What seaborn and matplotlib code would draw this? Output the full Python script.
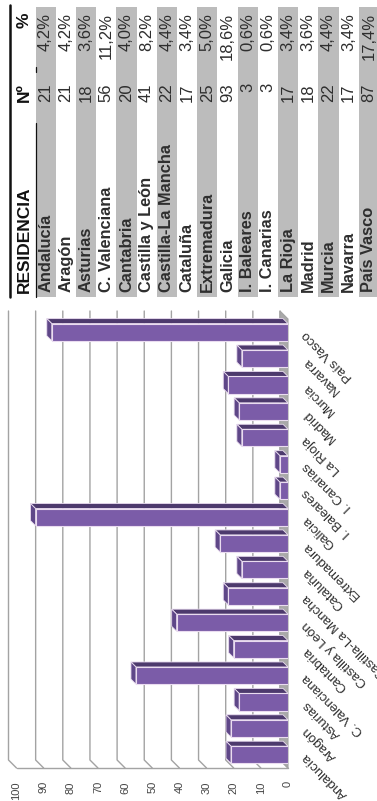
import matplotlib
matplotlib.use("Agg")
import matplotlib.pyplot as plt
import matplotlib.patches as mpatches
import pandas as pd
import seaborn as sns

# =========================================================
# DATA
# =========================================================

regions = ["Andalucía", "Aragón", "Asturias", "C. Valenciana", "Cantabria",
           "Castilla y León", "Castilla-La Mancha", "Cataluña", "Extremadura",
           "Galicia", "I. Baleares", "I. Canarias", "La Rioja", "Madrid",
           "Murcia", "Navarra", "País Vasco"]
counts = [21, 21, 18, 56, 20, 41, 22, 17, 25, 93, 3, 3, 17, 18, 22, 17, 87]
pcts = ["4,2%", "4,2%", "3,6%", "11,2%", "4,0%", "8,2%", "4,4%", "3,4%", "5,0%",
        "18,6%", "0,6%", "0,6%", "3,4%", "3,6%", "4,4%", "3,4%", "17,4%"]
value_ticks = list(range(0, 101, 10))
headers = ["RESIDENCIA", "Nº", "%"]

# =========================================================
# STYLE
# =========================================================

W, H = 377, 801
PURPLE     = "#7b5ca8"
PURPLE_TOP = "#4d3a6d"
PURPLE_END = "#5f4788"
EDGE       = "#eadcf0"
GRID       = "#a3a3a3"
FLOOR      = "#a9a9a9"
TXT        = "#2e2e2e"
BAND       = "#bcbcbc"

sns.set_theme(style="white")
plt.rcParams["font.family"] = ["Liberation Sans", "DejaVu Sans"]

fig = plt.figure(figsize=(W / 100, H / 100), dpi=100)

# =========================================================
# CHART (rotated 3D-look bar chart)
# =========================================================

left, right, top, bottom = 16.5, 288, 319, 768
ax = fig.add_axes([left / W, 1 - bottom / H, (right - left) / W, (bottom - top) / H])

df = pd.DataFrame({"region": regions, "n": counts})
sns.barplot(data=df, x="n", y="region", order=regions[::-1], orient="h",
            color=PURPLE, saturation=1, width=0.65, edgecolor=EDGE,
            linewidth=0.8, ax=ax, zorder=3)
bars = list(ax.patches)

ax.set_xlim(100, 0)
y0, y1 = -0.5, len(regions) - 0.5
ax.set_ylim(y1, y0)

xpu = (right - left) / 100          # px per value unit
ypu = (bottom - top) / len(regions)  # px per category
gdx, gdy = 8 / xpu, -8 / ypu        # wall depth
bdx, bdy = 5 / xpu, -5 / ypu        # bar depth

# floor and back-wall grid
ax.add_patch(mpatches.Polygon([(0, y0), (0, y1), (gdx, y1 + gdy), (gdx, y0 + gdy)],
                              closed=True, fc=FLOOR, ec=GRID, lw=0.8,
                              clip_on=False, zorder=1.5))
for v in value_ticks:
    ax.plot([v + gdx, v + gdx, v], [y0 + gdy, y1 + gdy, y1],
            color=GRID, lw=1, clip_on=False, zorder=1)
ax.plot([100, 0], [y1, y1], color=GRID, lw=1, clip_on=False, zorder=1)

# bar depth faces
for p in bars:
    v = p.get_width()
    yt = p.get_y()
    yb = yt + p.get_height()
    ax.add_patch(mpatches.Polygon([(v, yt), (0, yt), (bdx, yt + bdy), (v + bdx, yt + bdy)],
                                  closed=True, fc=PURPLE_TOP, ec=EDGE, lw=0.6,
                                  clip_on=False, zorder=2.5))
    ax.add_patch(mpatches.Polygon([(v, yt), (v, yb), (v + bdx, yb + bdy), (v + bdx, yt + bdy)],
                                  closed=True, fc=PURPLE_END, ec=EDGE, lw=0.6,
                                  clip_on=False, zorder=2.6))

ax.set_xlabel("")
ax.set_ylabel("")
ax.grid(False)
sns.despine(ax=ax, left=True, bottom=True)

ax.set_xticks(value_ticks)
ax.set_xticklabels([str(v) for v in value_ticks], rotation=90, fontsize=8, color="#444444")
ax.tick_params(axis="x", length=0, pad=9.5)

ax.yaxis.tick_right()
ax.tick_params(axis="y", length=0, pad=12, labelsize=9.5, labelcolor=TXT)
for lab in ax.get_yticklabels():
    lab.set_rotation(135)
    lab.set_rotation_mode("anchor")
    lab.set_ha("right")
    lab.set_va("center")

# =========================================================
# TABLE
# =========================================================

tab = fig.add_axes([0, 1 - 300 / H, 1, 300 / H])
tab.set_xlim(0, W)
tab.set_ylim(300, 0)
tab.axis("off")

pitch = 20.2
x_first = 35.5
for i, (name, n, pc) in enumerate(zip(regions, counts, pcts)):
    x0 = x_first + i * pitch
    if i % 2 == 0:
        tab.add_patch(mpatches.Rectangle((x0, 7), pitch, 290, fc=BAND, ec="none"))
    xc = x0 + pitch / 2
    tab.text(xc, 292, name, rotation=90, ha="center", va="bottom",
             fontsize=11.8, fontweight="bold", color=TXT)
    tab.text(xc, 83, str(n), rotation=90, ha="center", va="top", fontsize=12, color=TXT)
    tab.text(xc, 13, pc, rotation=90, ha="center", va="top", fontsize=12, color=TXT)

tab.text(24, 293, headers[0], rotation=90, ha="center", va="bottom",
         fontsize=12.5, fontweight="bold", color="#111111")
tab.text(24, 83, headers[1], rotation=90, ha="center", va="top",
         fontsize=12.5, fontweight="bold", color="#111111")
tab.text(24, 13, headers[2], rotation=90, ha="center", va="top",
         fontsize=12.5, fontweight="bold", color="#111111")

tab.plot([10, 10], [5, 297], color="#111111", lw=1.8)
tab.plot([35.5, 35.5], [123, 297], color="#111111", lw=0.9)
tab.plot([35.5, 35.5], [67, 72], color="#111111", lw=0.9)

fig.savefig("out.png", dpi=100)
